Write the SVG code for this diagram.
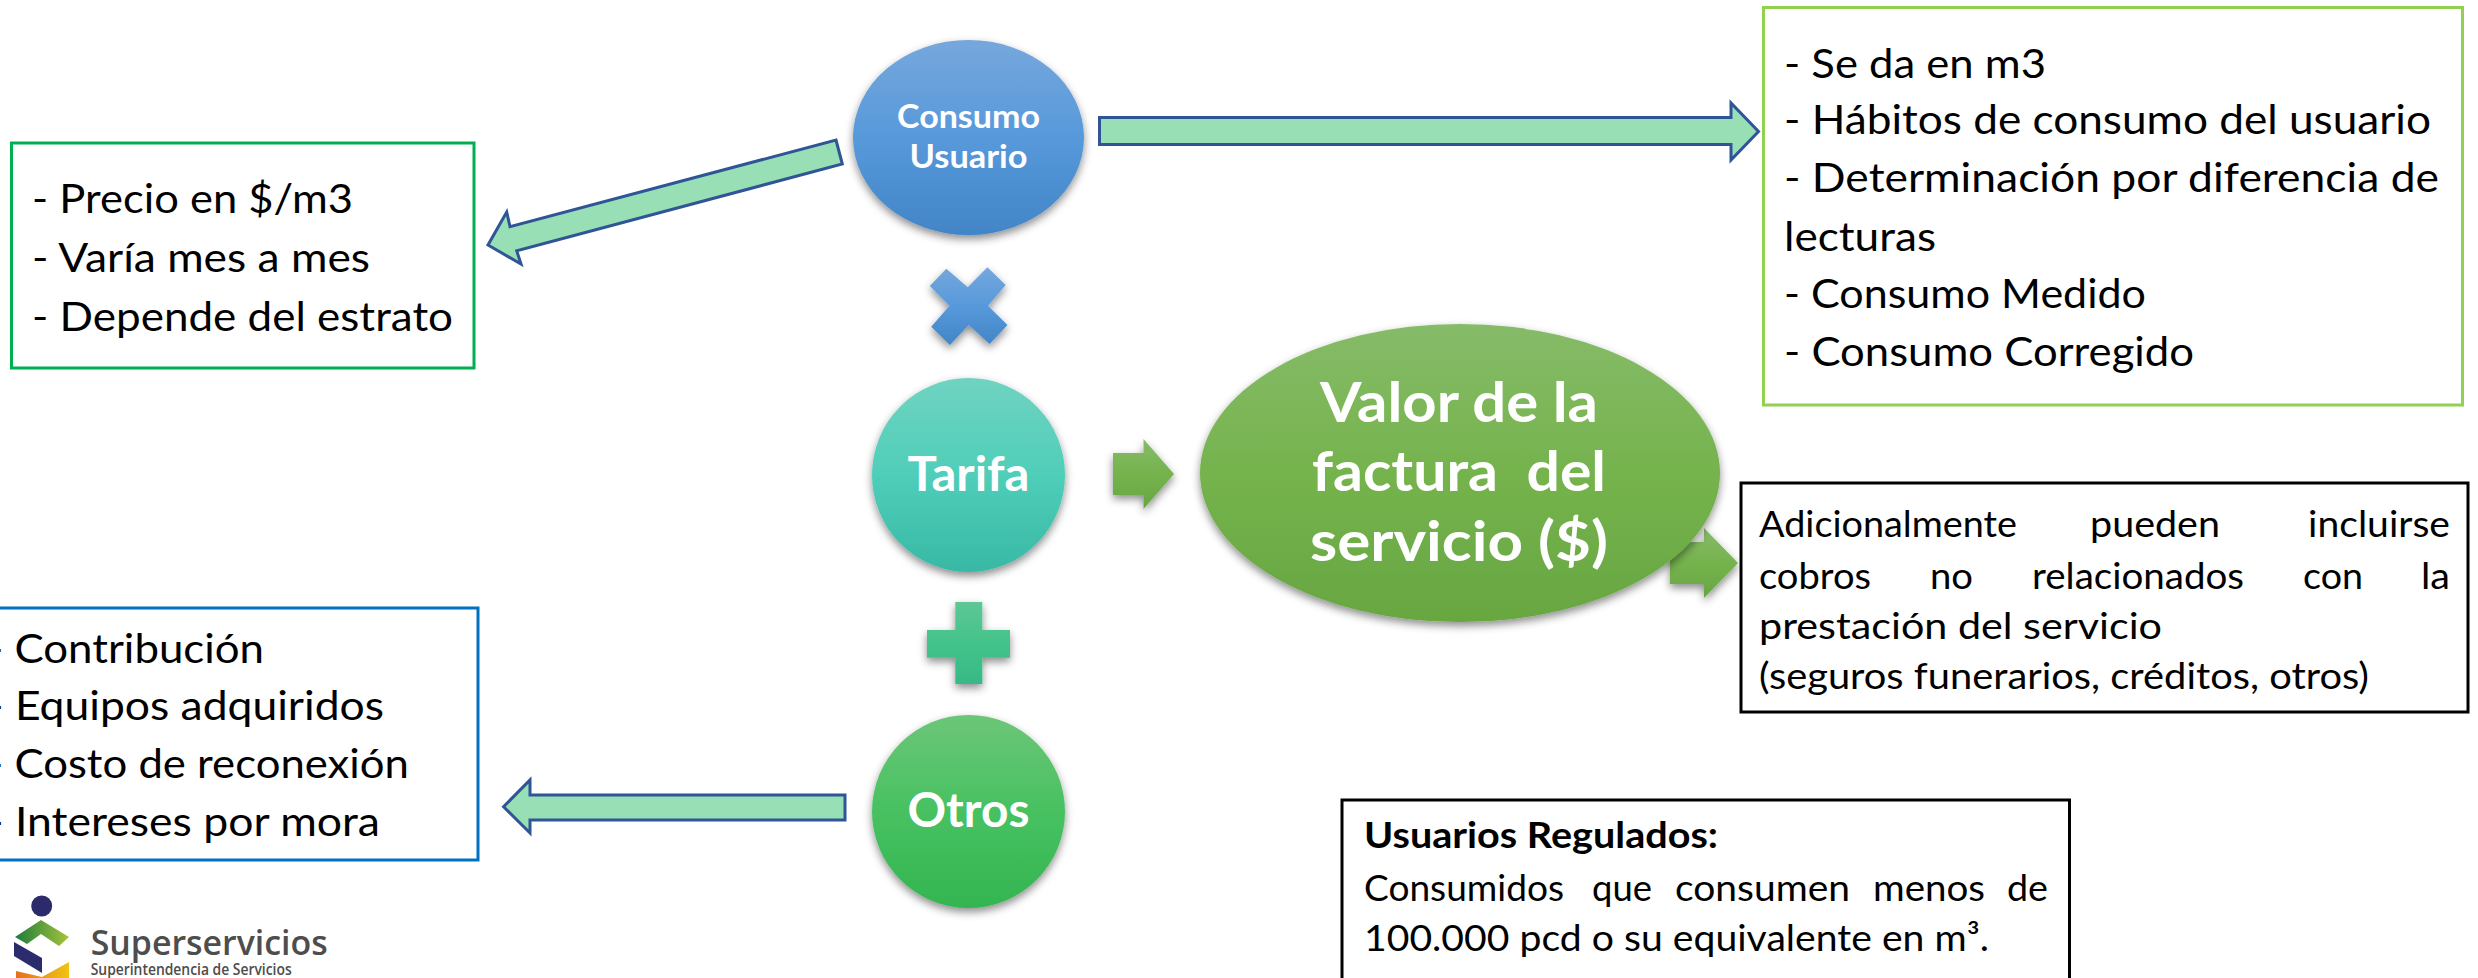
<svg xmlns="http://www.w3.org/2000/svg" width="2478" height="978" viewBox="0 0 2478 978">
<style>
text{font-family:"Lato","Carlito","Liberation Sans",sans-serif;fill:#000}
.w{fill:#fff;font-weight:700;text-anchor:middle}
.box{fill:#fff;stroke-width:3}
.conn{fill:#98DFB6;stroke:#2F5597;stroke-width:3;stroke-linejoin:miter}
.l{font-size:41px}
.m{font-size:36px}
</style>
<defs>
<filter id="sh" x="-20%" y="-20%" width="140%" height="140%"><feDropShadow dx="0" dy="4" stdDeviation="4" flood-color="#000" flood-opacity="0.45"/></filter>
<linearGradient id="gb" x1="0" y1="0" x2="0" y2="1"><stop offset="0" stop-color="#76A7DC"/><stop offset="0.5" stop-color="#5799DB"/><stop offset="1" stop-color="#4285C7"/></linearGradient>
<linearGradient id="gt" x1="0" y1="0" x2="0" y2="1"><stop offset="0" stop-color="#70D3C1"/><stop offset="0.5" stop-color="#4FCEB9"/><stop offset="1" stop-color="#38B9A5"/></linearGradient>
<linearGradient id="go" x1="0" y1="0" x2="0" y2="1"><stop offset="0" stop-color="#6CC678"/><stop offset="0.5" stop-color="#47C161"/><stop offset="1" stop-color="#34B551"/></linearGradient>
<linearGradient id="gv" x1="0" y1="0" x2="0" y2="1"><stop offset="0" stop-color="#86BB68"/><stop offset="0.5" stop-color="#75B34D"/><stop offset="1" stop-color="#67A641"/></linearGradient>
<linearGradient id="gp" x1="0" y1="0" x2="0" y2="1"><stop offset="0" stop-color="#5FC794"/><stop offset="0.5" stop-color="#43C38B"/><stop offset="1" stop-color="#37B985"/></linearGradient>
<linearGradient id="lg" x1="0" y1="0" x2="1" y2="0"><stop offset="0" stop-color="#1E7B3C"/><stop offset="1" stop-color="#A5C43A"/></linearGradient>
<linearGradient id="ly" x1="0" y1="0" x2="1" y2="0"><stop offset="0" stop-color="#E2711D"/><stop offset="1" stop-color="#EFC414"/></linearGradient>
</defs>
<rect width="2478" height="978" fill="#fff"/>

<g id="connectors">
<polygon class="conn" points="836,140 842.3,164 516.7,250.7 521,264 488,245 506.7,212 510,226.7"/>
<polygon class="conn" points="1099.5,117.5 1731,117.5 1731,103 1758.5,131.5 1731,160 1731,144.5 1099.5,144.5"/>
<polygon class="conn" points="845,795 530,795 530,780 503.6,806.7 530,833 530,820 845,820"/>
<polygon fill="url(#gv)" filter="url(#sh)" points="1113,453 1143.5,453 1143.5,439 1174,474 1143.5,509 1143.5,495 1113,495"/>
<polygon fill="url(#gv)" filter="url(#sh)" points="1670,542 1704,542 1704,528 1738,563 1704,598 1704,584 1670,584"/>
</g>

<g id="node-precio">
<rect class="box" x="11.5" y="143" width="462.5" height="225" stroke="#00B050"/>
<text class="l" x="32" y="213" textLength="321" lengthAdjust="spacingAndGlyphs">- Precio en $/m3</text>
<text class="l" x="32" y="272" textLength="338" lengthAdjust="spacingAndGlyphs">- Varía mes a mes</text>
<text class="l" x="32" y="331" textLength="421" lengthAdjust="spacingAndGlyphs">- Depende del estrato</text>
</g>

<g id="node-otros-detalle">
<rect class="box" x="-6" y="608" width="484" height="252" stroke="#0070C0"/>
<text class="l" x="-13" y="663" textLength="277" lengthAdjust="spacingAndGlyphs">- Contribución</text>
<text class="l" x="-13" y="720" textLength="397" lengthAdjust="spacingAndGlyphs">- Equipos adquiridos</text>
<text class="l" x="-13" y="778" textLength="422" lengthAdjust="spacingAndGlyphs">- Costo de reconexión</text>
<text class="l" x="-13" y="836" textLength="393" lengthAdjust="spacingAndGlyphs">- Intereses por mora</text>
</g>

<g id="node-consumo">
<ellipse cx="968.5" cy="137.5" rx="115.5" ry="97.5" fill="url(#gb)" filter="url(#sh)"/>
<text class="w" x="968.5" y="128" font-size="32" textLength="143" lengthAdjust="spacingAndGlyphs">Consumo</text>
<text class="w" x="968.5" y="167.5" font-size="32" textLength="118" lengthAdjust="spacingAndGlyphs">Usuario</text>
</g>

<g id="node-por">
<polygon fill="url(#gb)" filter="url(#sh)" points="946.3,268.7 967.8,287.3 987.4,267.3 1005.7,285 987.9,305.7 1007.5,325 989.6,344 968.7,325 949.9,345 931.2,326.7 949.5,305.7 929.8,286"/>
</g>

<g id="node-tarifa">
<ellipse cx="968.5" cy="475" rx="96.5" ry="97" fill="url(#gt)" filter="url(#sh)"/>
<text class="w" x="968.5" y="491" font-size="47" textLength="122" lengthAdjust="spacingAndGlyphs">Tarifa</text>
</g>

<g id="node-mas">
<polygon fill="url(#gp)" filter="url(#sh)" points="955.3,602 982.3,602 982.3,630 1010,630 1010,657.7 982.3,657.7 982.3,684 955.3,684 955.3,657.7 927,657.7 927,630 955.3,630"/>
</g>

<g id="node-otros">
<ellipse cx="968.5" cy="811.5" rx="96.5" ry="96.5" fill="url(#go)" filter="url(#sh)"/>
<text class="w" x="968.5" y="827" font-size="47" textLength="122" lengthAdjust="spacingAndGlyphs">Otros</text>
</g>

<g id="node-valor">
<ellipse cx="1460" cy="473" rx="260" ry="149" fill="url(#gv)" filter="url(#sh)"/>
<text class="w" x="1459" y="421.5" font-size="56" textLength="278" lengthAdjust="spacingAndGlyphs">Valor de la</text>
<text class="w" x="1459" y="491" font-size="56" xml:space="preserve" textLength="294" lengthAdjust="spacingAndGlyphs">factura  del</text>
<text class="w" x="1459" y="560.5" font-size="56" textLength="298" lengthAdjust="spacingAndGlyphs">servicio ($)</text>
</g>

<g id="node-consumo-detalle">
<rect class="box" x="1763.5" y="7.5" width="699" height="397.5" stroke="#92D050"/>
<text class="l" x="1784" y="78" textLength="262" lengthAdjust="spacingAndGlyphs">- Se da en m3</text>
<text class="l" x="1784" y="134" textLength="647" lengthAdjust="spacingAndGlyphs">- Hábitos de consumo del usuario</text>
<text class="l" x="1784" y="192" textLength="655" lengthAdjust="spacingAndGlyphs">- Determinación por diferencia de</text>
<text class="l" x="1784" y="251" textLength="152" lengthAdjust="spacingAndGlyphs">lecturas</text>
<text class="l" x="1784" y="308" textLength="362" lengthAdjust="spacingAndGlyphs">- Consumo Medido</text>
<text class="l" x="1784" y="366" textLength="410" lengthAdjust="spacingAndGlyphs">- Consumo Corregido</text>
</g>

<g id="node-adicional">
<rect class="box" x="1741" y="483" width="727" height="229" stroke="#000"/>
<text class="m" y="537"><tspan x="1759" textLength="258" lengthAdjust="spacingAndGlyphs">Adicionalmente</tspan><tspan x="2090" textLength="130" lengthAdjust="spacingAndGlyphs">pueden</tspan><tspan x="2308" textLength="142" lengthAdjust="spacingAndGlyphs">incluirse</tspan></text>
<text class="m" y="589"><tspan x="1759" textLength="112" lengthAdjust="spacingAndGlyphs">cobros</tspan><tspan x="1930" textLength="43" lengthAdjust="spacingAndGlyphs">no</tspan><tspan x="2032" textLength="212" lengthAdjust="spacingAndGlyphs">relacionados</tspan><tspan x="2303" textLength="60" lengthAdjust="spacingAndGlyphs">con</tspan><tspan x="2421" textLength="29" lengthAdjust="spacingAndGlyphs">la</tspan></text>
<text class="m" x="1759" y="639" textLength="403" lengthAdjust="spacingAndGlyphs">prestación del servicio</text>
<text class="m" x="1759" y="689" textLength="610" lengthAdjust="spacingAndGlyphs">(seguros funerarios, créditos, otros)</text>
</g>

<g id="node-usuarios">
<rect class="box" x="1342" y="800" width="727.5" height="190" stroke="#000"/>
<text class="m" x="1364" y="848" font-weight="700" textLength="354" lengthAdjust="spacingAndGlyphs">Usuarios Regulados:</text>
<text class="m" y="901"><tspan x="1364" textLength="200" lengthAdjust="spacingAndGlyphs">Consumidos</tspan><tspan x="1592" textLength="60" lengthAdjust="spacingAndGlyphs">que</tspan><tspan x="1675" textLength="175" lengthAdjust="spacingAndGlyphs">consumen</tspan><tspan x="1873" textLength="112" lengthAdjust="spacingAndGlyphs">menos</tspan><tspan x="2007" textLength="41" lengthAdjust="spacingAndGlyphs">de</tspan></text>
<text class="m" x="1364" y="951" textLength="625" lengthAdjust="spacingAndGlyphs">100.000 pcd o su equivalente en m³.</text>
</g>

<g id="logo">
<circle cx="41.7" cy="906" r="10.5" fill="#2B2A6B"/>
<polygon fill="url(#lg)" points="15,937 41,920 69,937 59,946 41,934 27,944"/>
<polygon fill="#2A2C6E" points="14,942 42,958 42,973 14,956"/>
<polygon fill="url(#ly)" points="16,978 16,971 42,977 69,962 69,978"/>
<text x="90.7" y="955" font-size="35" font-weight="600" style="font-family:'Open Sans',sans-serif;fill:#4D4D4D" textLength="237" lengthAdjust="spacingAndGlyphs">Superservicios</text>
<text x="90.7" y="975" font-size="16" font-weight="600" style="font-family:'Open Sans',sans-serif;fill:#4D4D4D" textLength="201" lengthAdjust="spacingAndGlyphs">Superintendencia de Servicios</text>
</g>
</svg>
